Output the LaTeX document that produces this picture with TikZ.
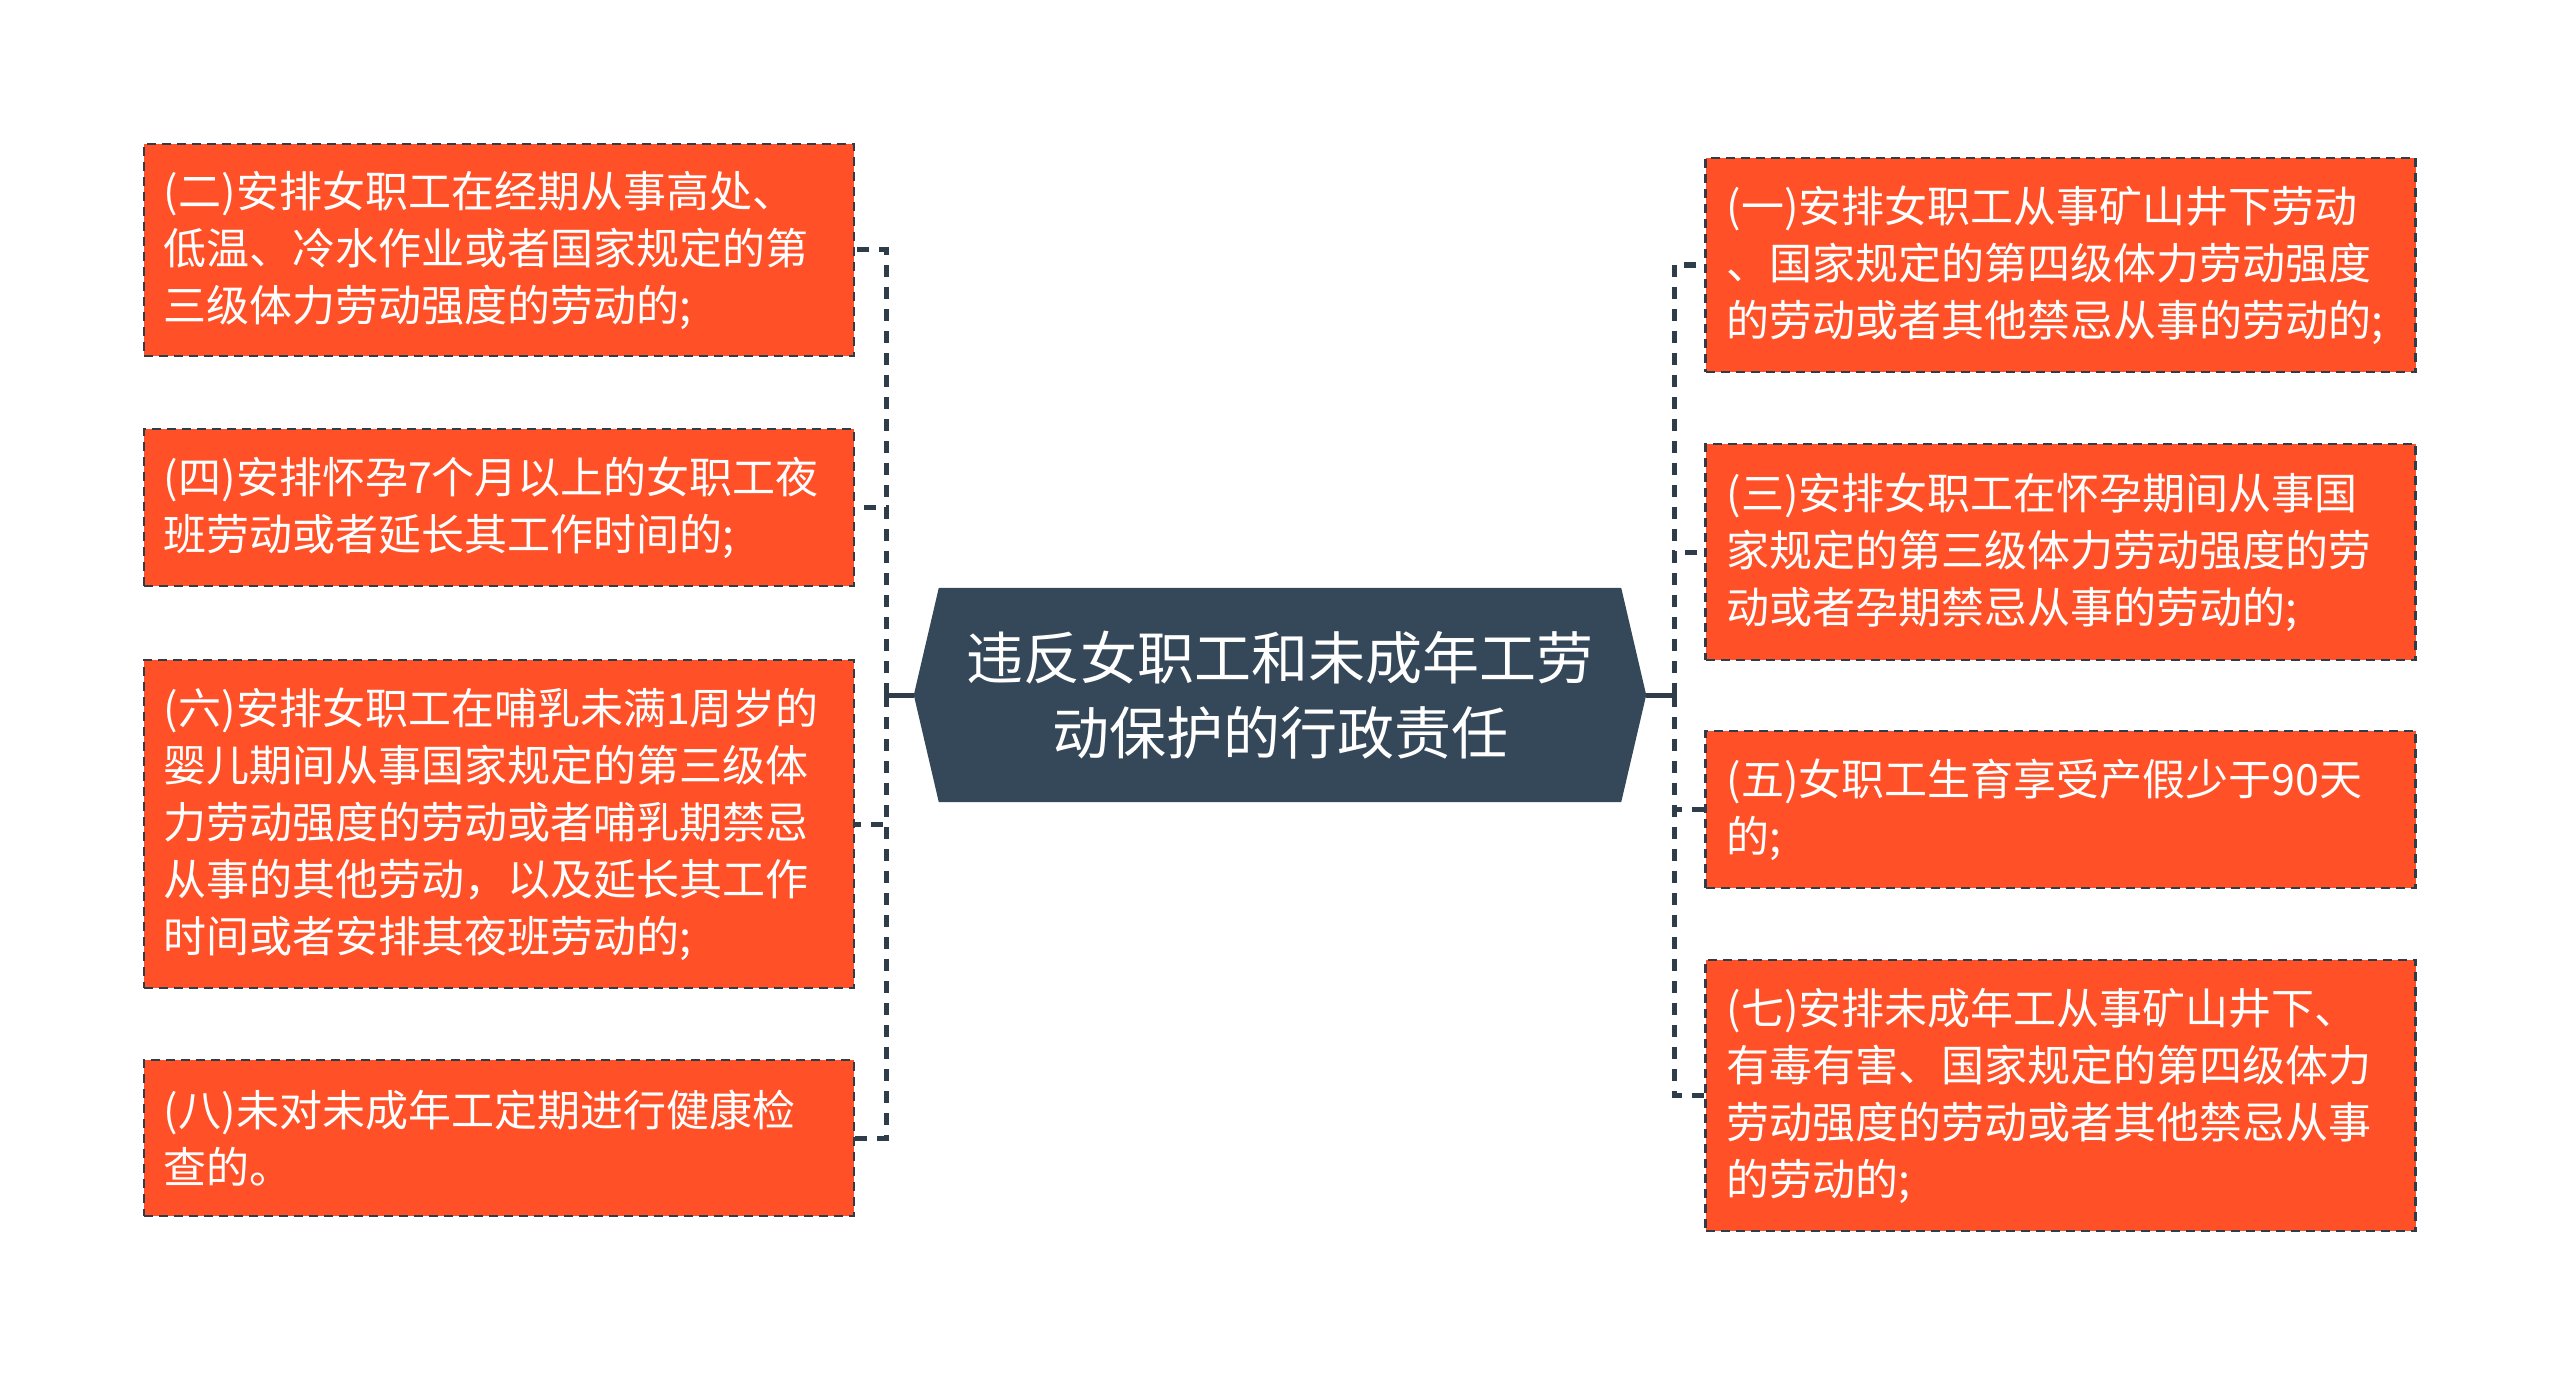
\documentclass[tikz,border=0pt]{standalone}
\usepackage{fontspec}
\newfontfamily\cjk{Noto Sans CJK SC}
\usetikzlibrary{backgrounds}
\definecolor{boxfill}{HTML}{FF5027}
\definecolor{navy}{HTML}{35485A}
\definecolor{linec}{HTML}{2F3D4B}
\begin{document}
\begin{tikzpicture}[x=1pt,y=-1pt,
  itembox/.style={rectangle, draw=linec, line width=2.5pt, dash pattern=on 9pt off 6pt,
    fill=boxfill, minimum width=710pt, inner sep=0pt},
  itemtext/.style={anchor=west, align=left, text=white, inner sep=0pt,
    font=\cjk\fontsize{43}{57}\selectfont},
  hub/.style={rectangle, text=white, align=center, inner sep=0pt,
    minimum width=732pt, minimum height=214pt,
    font=\cjk\fontsize{57}{75}\selectfont},
  conn/.style={draw=linec, line width=5pt, dash pattern=on 12pt off 10pt},
  trunk/.style={draw=linec, line width=5pt}]
\useasboundingbox (0,0) rectangle (2560,1375);

% central topic
\node[hub] (hub) at (1280,695) {违反女职工和未成年工劳\\动保护的行政责任};
\begin{scope}[on background layer]
  \fill[white] (0,0) rectangle (2560,1375);
  \fill[navy] (hub.west) -- ([xshift=25pt]hub.north west) -- ([xshift=-25pt]hub.north east)
    -- (hub.east) -- ([xshift=-25pt]hub.south east) -- ([xshift=25pt]hub.south west) -- cycle;
\end{scope}

% left items
\node[itembox, minimum height=212pt] (L1) at (499,250) {};
\node[itemtext] (tL1) at ([xshift=21pt]L1.west) {(二)安排女职工在经期从事高处、\\低温、冷水作业或者国家规定的第\\三级体力劳动强度的劳动的;};
\node[itembox, minimum height=157pt] (L2) at (499,507.5) {};
\node[itemtext] (tL2) at ([xshift=21pt]L2.west) {(四)安排怀孕7个月以上的女职工夜\\班劳动或者延长其工作时间的;};
\node[itembox, minimum height=328pt] (L3) at (499,824) {};
\node[itemtext] (tL3) at ([xshift=21pt]L3.west) {(六)安排女职工在哺乳未满1周岁的\\婴儿期间从事国家规定的第三级体\\力劳动强度的劳动或者哺乳期禁忌\\从事的其他劳动，以及延长其工作\\时间或者安排其夜班劳动的;};
\node[itembox, minimum height=156pt] (L4) at (499,1138) {};
\node[itemtext] (tL4) at ([xshift=21pt]L4.west) {(八)未对未成年工定期进行健康检\\查的。};

% right items
\node[itembox, minimum height=214pt] (R1) at (2060.5,265) {};
\node[itemtext] (tR1) at ([xshift=22pt]R1.west) {(一)安排女职工从事矿山井下劳动\\、国家规定的第四级体力劳动强度\\的劳动或者其他禁忌从事的劳动的;};
\node[itembox, minimum height=216pt] (R2) at (2060.5,552) {};
\node[itemtext] (tR2) at ([xshift=22pt]R2.west) {(三)安排女职工在怀孕期间从事国\\家规定的第三级体力劳动强度的劳\\动或者孕期禁忌从事的劳动的;};
\node[itembox, minimum height=157pt] (R3) at (2060.5,809.5) {};
\node[itemtext] (tR3) at ([xshift=22pt]R3.west) {(五)女职工生育享受产假少于90天\\的;};
\node[itembox, minimum height=271pt] (R4) at (2060.5,1095.5) {};
\node[itemtext] (tR4) at ([xshift=22pt]R4.west) {(七)安排未成年工从事矿山井下、\\有毒有害、国家规定的第四级体力\\劳动强度的劳动或者其他禁忌从事\\的劳动的;};

% connectors
\coordinate (jl) at (886,695);
\coordinate (jr) at (1674,695);
\draw[trunk] (hub.west) -- (jl);
\draw[trunk] (hub.east) -- (jr);
\foreach \n in {L1,L2,L3,L4} \draw[conn] (jl) |- (\n.east);
\foreach \n in {R1,R2,R3,R4} \draw[conn] (jr) |- (\n.west);
\end{tikzpicture}
\end{document}
